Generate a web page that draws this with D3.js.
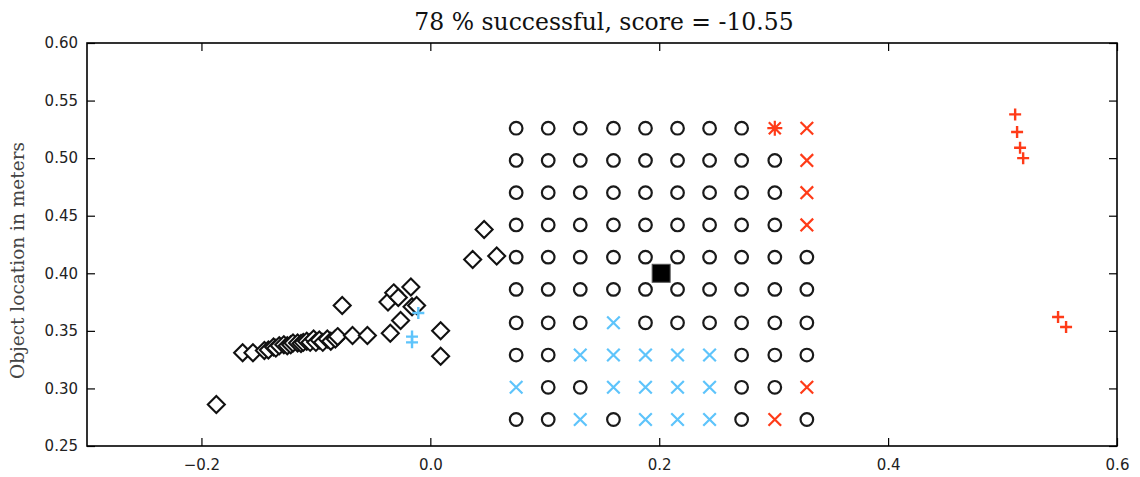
<!DOCTYPE html>
<html>
<head>
<meta charset="utf-8">
<script src="https://cdn.jsdelivr.net/npm/d3@7"></script>
<style>
  html, body { margin: 0; padding: 0; background: #fff; }
  svg { display: block; }
</style>
</head>
<body>
<svg id="chart" width="1140" height="477"></svg>
<script>
// Trial grid of object positions (x columns, y rows, meters)
const gridX = [0.075, 0.103, 0.131, 0.160, 0.188, 0.216, 0.244, 0.272, 0.301, 0.329];
const gridY = [0.526, 0.498, 0.470, 0.442, 0.414, 0.386, 0.357, 0.329, 0.301, 0.273];
// Outcome per grid cell, row by row from the top:
// o = success, b = failure (blue), r = failure (red), s = red star
const gridOutcome = [
  "oooooooosr",
  "ooooooooor",
  "ooooooooor",
  "ooooooooor",
  "oooooooooo",
  "oooooooooo",
  "ooobooooooo".slice(0, 10),
  "oobbbbbooo",
  "boobbbboor",
  "oobobbboro"
];

// Final object positions recorded for the diamond markers
const diamondX = [-0.187, -0.164, -0.155, -0.145, -0.1415, -0.137, -0.135, -0.132, -0.128, -0.125,
                  -0.122, -0.120, -0.116, -0.113, -0.111, -0.108, -0.105, -0.102, -0.100, -0.097,
                  -0.094, -0.090, -0.087, -0.083, -0.081, -0.077, -0.068, -0.055, -0.037, -0.035,
                  -0.032, -0.028, -0.026, -0.017, -0.016, -0.012, 0.009, 0.009, 0.037, 0.047,
                  0.058];
const diamondY = [0.286, 0.331, 0.331, 0.333, 0.3334, 0.336, 0.335, 0.337, 0.338, 0.337,
                  0.338, 0.3395, 0.3395, 0.339, 0.340, 0.341, 0.340, 0.343, 0.340, 0.342,
                  0.340, 0.343, 0.341, 0.343, 0.345, 0.372, 0.346, 0.346, 0.375, 0.348,
                  0.383, 0.379, 0.359, 0.388, 0.371, 0.372, 0.350, 0.328, 0.412, 0.438,
                  0.415];

// Plus markers
const bluePlusX = [-0.0105, -0.016, -0.016];
const bluePlusY = [0.3655, 0.345, 0.340];
const redPlusX = [0.511, 0.5127, 0.5153, 0.518, 0.5485, 0.5555];
const redPlusY = [0.538, 0.5227, 0.509, 0.500, 0.362, 0.3534];

// Target position
const targetX = [0.2017];
const targetY = [0.400];

const xTicks = [-0.2, 0.0, 0.2, 0.4, 0.6];
const yTicks = [0.25, 0.30, 0.35, 0.40, 0.45, 0.50, 0.55, 0.60];

const titleText = "78 % successful, score = -10.55";
const yLabelText = "Object location in meters";

const W = 1140, H = 477;
const margin = { left: 87, top: 43, right: 23, bottom: 31 };
const iw = W - margin.left - margin.right;
const ih = H - margin.top - margin.bottom;

const svg = d3.select("#chart");
const g = svg.append("g").attr("transform", `translate(${margin.left},${margin.top})`);

const x = d3.scaleLinear().domain([-0.3, 0.6]).range([0, iw]);
const y = d3.scaleLinear().domain([0.25, 0.60]).range([ih, 0]);

const BLUE = "#5ec4fb";
const RED = "#ff3b18";
const tickFont = "'DejaVu Sans', sans-serif";
const serif = "'DejaVu Serif', 'Liberation Serif', serif";
const tickLen = 8;

const fmtX = d => (d < 0 ? "\u2212" : "") + Math.abs(d).toFixed(1);
const fmtY = d => d.toFixed(2);

// Axes with inward ticks on all four sides
function styleAxis(sel) {
  sel.select(".domain").remove();
  sel.selectAll(".tick line").attr("stroke", "#000").attr("stroke-width", 1.2);
  sel.selectAll(".tick text").attr("font-family", tickFont).attr("font-size", 15).attr("fill", "#222");
}
g.append("g").attr("transform", `translate(0,${ih})`)
  .call(d3.axisBottom(x).tickValues(xTicks).tickFormat(fmtX).tickSizeInner(-tickLen).tickSizeOuter(0).tickPadding(13))
  .call(styleAxis);
g.append("g")
  .call(d3.axisTop(x).tickValues(xTicks).tickFormat("").tickSizeInner(-tickLen).tickSizeOuter(0))
  .call(styleAxis);
g.append("g")
  .call(d3.axisLeft(y).tickValues(yTicks).tickFormat(fmtY).tickSizeInner(-tickLen).tickSizeOuter(0).tickPadding(9))
  .call(styleAxis);
g.append("g").attr("transform", `translate(${iw},0)`)
  .call(d3.axisRight(y).tickValues(yTicks).tickFormat("").tickSizeInner(-tickLen).tickSizeOuter(0))
  .call(styleAxis);

// Marker shapes
const crossPath = h => `M${-h},${-h}L${h},${h}M${-h},${h}L${h},${-h}`;
const plusPath = h => `M${-h},0L${h},0M0,${-h}L0,${h}`;

const marks = g.append("g");

// Grid cells
const cells = [];
gridOutcome.forEach((row, ri) => {
  row.split("").forEach((c, ci) => cells.push({ x: gridX[ci], y: gridY[ri], c }));
});

marks.selectAll("circle.ok").data(cells.filter(d => d.c === "o")).join("circle")
  .attr("cx", d => x(d.x)).attr("cy", d => y(d.y)).attr("r", 6.3)
  .attr("fill", "none").attr("stroke", "#1a1a1a").attr("stroke-width", 2.2);

marks.selectAll("path.fail").data(cells.filter(d => d.c !== "o")).join("path")
  .attr("transform", d => `translate(${x(d.x)},${y(d.y)})`)
  .attr("d", d => d.c === "s" ? crossPath(6) + plusPath(7.5) : crossPath(6.3))
  .attr("fill", "none")
  .attr("stroke", d => d.c === "b" ? BLUE : RED)
  .attr("stroke-width", 2.2);

// Diamonds
const diamonds = diamondX.map((v, i) => ({ x: v, y: diamondY[i] }));
marks.selectAll("path.dia").data(diamonds).join("path")
  .attr("transform", d => `translate(${x(d.x)},${y(d.y)})`)
  .attr("d", "M0,-8.5L8.5,0L0,8.5L-8.5,0Z")
  .attr("fill", "#fff").attr("stroke", "#111").attr("stroke-width", 2.1);

// Plus markers
const pluses = bluePlusX.map((v, i) => ({ x: v, y: bluePlusY[i], col: BLUE }))
  .concat(redPlusX.map((v, i) => ({ x: v, y: redPlusY[i], col: RED })));
marks.selectAll("path.plus").data(pluses).join("path")
  .attr("transform", d => `translate(${x(d.x)},${y(d.y)})`)
  .attr("d", plusPath(6))
  .attr("fill", "none").attr("stroke", d => d.col).attr("stroke-width", 2.4);

// Target square
marks.selectAll("rect.target").data(targetX.map((v, i) => ({ x: v, y: targetY[i] }))).join("rect")
  .attr("x", d => x(d.x) - 9).attr("y", d => y(d.y) - 9)
  .attr("width", 18).attr("height", 18)
  .attr("fill", "#000").attr("stroke", "#555").attr("stroke-width", 1);

// Frame
g.append("rect").attr("width", iw).attr("height", ih)
  .attr("fill", "none").attr("stroke", "#000").attr("stroke-width", 1.6);

// Title and axis label
svg.append("text").attr("x", margin.left + iw / 2 + 2).attr("y", 30)
  .attr("text-anchor", "middle").attr("font-family", serif).attr("font-size", 23.5)
  .attr("fill", "#111").text(titleText);

svg.append("text")
  .attr("transform", `translate(24,${margin.top + ih / 2 + 16}) rotate(-90)`)
  .attr("text-anchor", "middle").attr("font-family", serif).attr("font-size", 18.5)
  .attr("fill", "#444").text(yLabelText);
</script>
</body>
</html>
